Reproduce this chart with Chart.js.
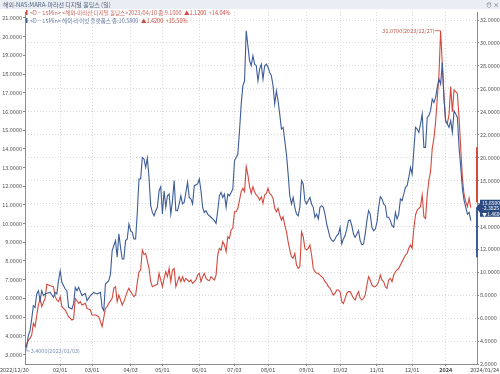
<!DOCTYPE html>
<html>
<head>
<meta charset="utf-8">
<script src="https://cdn.jsdelivr.net/npm/chart.js@4.4.0/dist/chart.umd.min.js"></script>
<style>
html, body { margin: 0; padding: 0; background: #fff; }
canvas { display: block; }
</style>
</head>
<body>
<canvas id="priceChart" width="500" height="374"></canvas>
<script>
// 거래일 번호 (2022/12/30 = 0)
const tickDays = [0, 21, 40, 63, 82, 104, 125, 145, 168, 188, 210, 231, 251, 266];
const tickLabels = ["2022/12/30", "02/01", "03/01", "04/03", "05/01", "06/01", "07/03",
                    "08/01", "09/01", "10/02", "11/01", "12/01", "2024", "2024/01/24"];

// 라이엇 플랫폼스 (왼쪽 축)
const riotDays = [0,1,2,3,4,5,6,7,8,9,10,11,12,13,15,17,18,19,20,21,22,24,25,26,28,29,30,31,32,34,36,37,39,41,43,45,46,47,48,50,
  51,52,54,55,56,57,58,59,60,61,62,63,64,65,66,67,68,69,70,71,72,73,74,75,76,77,78,79,80,81,82,83,84,85,86,87,88,89,90,91,
  92,93,94,95,97,98,99,100,101,103,104,105,106,107,108,109,110,111,112,113,114,115,116,117,118,119,120,121,122,123,124,125,126,127,128,129,
  130,131,132,133,134,135,136,137,138,139,140,141,142,143,144,145,146,147,148,149,150,151,152,153,154,155,156,157,158,159,160,161,162,163,164,165,
  166,167,168,169,170,171,172,173,174,175,176,177,178,179,180,181,182,183,184,185,186,187,188,189,190,191,192,193,194,195,196,197,198,199,200,201,
  202,203,204,205,206,207,208,209,210,211,212,213,214,215,216,217,218,219,220,221,222,223,224,225,226,227,228,229,230,231,232,233,234,235,236,237,
  238,239,240,241,242,243,244,245,246,247,248,249,250,251,252,253,254,255,256,257,258,259,260,261,262,263,264,265,266];
const riotClose = [3.5,3.4,4.01,4.27,4.9,5.61,5.52,6.24,6.41,5.88,6.41,6.15,6.24,6.27,6.32,6.06,6.32,6.24,6.95,7.48,6.86,6.5,6.41,5.52,5.43,5.7,6.59,6.41,6.59,6.15,6.27,5.88,6.15,6.32,6.24,6.32,5.52,5.34,6.77,6.95,
  7.3,8.55,9.09,8.2,9.45,8.73,8.11,8.11,9.09,9.18,9.98,9.62,9.53,9.18,9.18,10.58,12.39,12.39,13.54,13.46,13.01,13.51,12.47,10.96,10.6,10.42,10.69,10.87,11.76,11.98,10.51,11.76,10.87,11.49,11.58,10.51,11.23,12.3,10.69,10.69,
  11.05,11.49,11.05,11.14,12.21,11.4,11.32,11.05,12.03,12.12,12.39,11.76,10.87,10.6,10.69,10.51,10.42,10.34,10.25,10.16,10.01,10.69,11.49,11.67,11.4,11.58,10.87,11.58,11.49,11.67,11.85,13.36,13.54,13.72,14.97,16.39,
  17.37,17.64,20.32,19.51,18.71,18.45,18.98,18.53,18.45,17.64,18.27,18.53,17.73,18.45,18.53,18.36,18.09,17.91,17.38,16.4,17.11,16.57,15.86,15.06,15.15,14.44,13.72,12.65,11.49,11.05,11.4,10.87,10.51,10.42,10.87,12.3,
  12.12,11.23,11.05,11.23,11.4,11.05,10.87,10.34,10.51,10.25,10.87,10.96,10.87,10.51,9.98,9.62,9.27,9.12,9.05,9.18,9.36,9.44,9.8,8.91,9.18,9.36,9.71,10.16,10.19,9.89,9.44,9.27,9.44,9.62,9.09,8.87,
  8.91,9.44,10.16,10.69,10.51,9.8,9.62,9.71,10.07,10.87,11.44,11.32,11.05,10.96,10.34,10.34,10.16,9.89,9.8,10.6,10.25,10.51,11.32,11.23,11.58,11.94,12.03,12.47,13.01,12.65,13.9,15.15,15.06,14.88,15.33,15.86,
  14.08,14.08,15.68,15.77,16.04,16.66,16.48,16.75,17.29,17.73,17.46,18.62,16.75,15.51,15.33,15.15,15.51,14.88,16.04,15.86,15.68,14.08,13.01,11.85,11.23,10.87,10.51,10.6,10.16];

// 마라선 디지털 홀딩스 (오른쪽 축)
const maraDays = [0,1,2,3,4,5,6,8,9,10,12,13,15,17,18,19,20,21,22,24,26,28,29,30,32,33,34,36,37,39,40,42,44,46,48,49,50,52,53,54,
  55,56,58,59,60,61,62,63,65,66,67,68,69,70,71,72,74,75,76,78,79,80,82,83,84,85,86,87,88,89,90,91,92,93,94,95,96,98,99,100,
  102,103,104,105,106,107,108,109,110,111,112,113,114,115,116,117,118,119,120,121,122,123,124,125,126,127,128,129,130,131,132,133,134,135,136,137,
  138,139,140,141,142,143,144,145,146,147,148,149,150,151,152,153,154,155,156,157,158,159,160,161,162,163,164,165,166,167,168,169,170,171,172,173,
  174,175,176,177,178,179,180,181,182,183,184,185,186,187,188,189,190,191,192,193,194,195,196,197,198,199,200,201,202,203,204,205,206,207,208,209,
  210,211,212,213,214,215,216,217,218,219,220,221,222,223,224,225,226,227,228,229,230,231,232,233,234,235,236,237,238,239,240,241,242,243,244,245,
  246,247,248,249,250,251,252,253,254,255,256,257,258,259,260,261,262,263,264,265,266];
const maraClose = [3.45,3.75,4.09,4.24,4.53,5.55,5.26,7.15,7.73,7.0,7.73,8.95,8.83,8.74,7.87,7.58,7.44,7.87,7.0,6.71,6.13,5.84,5.92,7.73,7.29,7.44,7.15,7.29,6.85,6.71,6.27,6.27,6.13,5.26,6.85,7.0,7.29,7.73,8.6,8.74,
  7.44,8.02,7.15,7.44,7.87,8.31,8.6,8.31,7.87,8.02,9.1,10.05,10.2,11.94,11.56,11.65,10.34,9.18,8.74,8.89,8.95,9.91,8.74,9.47,10.05,9.62,10.34,9.18,10.2,10.34,8.74,9.18,9.62,9.18,9.62,9.18,9.47,9.18,9.33,9.03,
  9.33,9.76,9.91,9.18,9.62,9.91,9.47,9.33,9.27,9.62,9.47,9.33,9.76,11.51,12.09,11.94,12.67,12.38,11.8,13.1,12.96,13.69,13.83,15.28,15.28,15.58,16.3,17.03,17.32,17.03,19.21,18.48,17.47,16.88,17.47,17.03,
  16.74,16.59,16.3,16.59,16.01,16.74,16.88,17.32,16.88,16.74,16.45,15.58,15.28,15.58,14.99,14.56,14.85,14.12,13.54,12.67,11.94,11.36,11.22,11.65,10.63,10.34,10.49,13.54,13.1,12.09,11.94,12.09,12.38,11.51,10.34,10.05,
  9.91,9.91,9.76,9.62,9.47,9.18,9.03,8.74,8.6,8.31,8.02,8.16,8.45,8.45,8.31,7.44,7.29,7.73,8.16,8.31,8.31,8.02,7.73,7.58,8.02,8.31,7.73,7.58,7.73,8.02,8.89,9.62,9.33,8.89,8.74,8.74,
  8.89,9.18,9.76,9.33,9.18,8.74,8.6,9.33,9.47,9.18,9.76,10.05,10.2,10.34,10.63,10.92,11.22,11.51,11.65,12.09,12.38,12.09,13.83,14.99,15.43,15.58,15.72,16.74,14.85,14.7,16.74,18.05,18.78,20.81,21.69,23.13,
  25.17,27.2,31.07,28.07,25.17,23.13,22.99,23.72,26.19,24.01,25.9,25.75,25.6,23.42,20.81,18.19,16.74,16.16,15.72,16.45,15.63];

// 오른쪽 현재가 표시 막대 (값 범위)
const maraSideRange = [16.1, 20.9];
const riotSideRange = [8.2, 10.85];

const RED = "#d4493d";
const BLUE = "#3d5d98";
const FONT = "'Noto Sans CJK KR', 'Noto Sans', sans-serif";

function toPoints(days, vals) {
    return days.map((d, i) => ({ x: d, y: vals[i] }));
}

// 한 줄에 색이 다른 글자 조각들을 이어서 쓴다
function drawRuns(ctx, x, y, runs) {
    runs.forEach(([text, color]) => {
        ctx.fillStyle = color;
        ctx.fillText(text, x, y);
        x += ctx.measureText(text).width;
    });
}

// 제목, 범례, 주석 그리기
const overlay = {
    id: "overlay",
    beforeDraw(chart) {
        const ctx = chart.ctx;
        ctx.save();
        ctx.fillStyle = "#fff";
        ctx.fillRect(0, 0, chart.width, chart.height);
        ctx.restore();
    },
    afterDraw(chart) {
        const ctx = chart.ctx;
        const xs = chart.scales.x, yl = chart.scales.yL, yr = chart.scales.yR;
        const area = chart.chartArea;
        ctx.save();

        // 상단 제목 줄
        ctx.fillStyle = "#e9eef5";
        ctx.fillRect(0, 0, chart.width, 9);
        ctx.font = "6px " + FONT;
        ctx.textBaseline = "middle";
        ctx.fillStyle = "#56627a";
        ctx.fillText("해외-NAS:MARA-마라선 디지털 홀딩스 (일)", 3, 4.5);
        ctx.fillText("⊙ ×", 486, 4.5);

        // 범례
        ctx.font = "5.5px " + FONT;
        ctx.fillStyle = RED;
        ctx.fillRect(26, 10, 1.5, 5);
        drawRuns(ctx, 30, 12.5, [
            ["<D − 15Min> <해외-마라선 디지털 홀딩스>2023/04/10 종:9.1000  ", "#c8665c"],
            ["▲1.1200  +14.04%", RED]
        ]);
        ctx.fillStyle = BLUE;
        ctx.fillRect(26, 18, 1.5, 5);
        drawRuns(ctx, 30, 20.5, [
            ["<D − 15Min> 해외-라이엇 플랫폼스 종:10.5800  ", "#6a7fa8"],
            ["▲1.4200  +15.50%", RED]
        ]);

        // x축 라벨
        ctx.fillStyle = "#444";
        const ly = area.bottom + 5.5;
        tickDays.forEach((d, i) => {
            const px = xs.getPixelForValue(d);
            ctx.font = (tickLabels[i] === "2024" ? "bold " : "") + "5.5px " + FONT;
            if (i === 0) {
                ctx.textAlign = "left";
                ctx.fillText(tickLabels[i], 0, ly);
            } else if (i === tickDays.length - 1) {
                ctx.textAlign = "right";
                ctx.fillText(tickLabels[i], chart.width - 1, ly);
            } else {
                ctx.textAlign = "center";
                ctx.fillText(tickLabels[i], px, ly);
            }
        });

        // 최고/최저 주석
        ctx.font = "5.5px " + FONT;
        const hiIdx = maraClose.indexOf(Math.max(...maraClose));
        const hx = xs.getPixelForValue(maraDays[hiIdx]);
        const hy = yr.getPixelForValue(maraClose[hiIdx]);
        ctx.strokeStyle = RED;
        ctx.lineWidth = 0.8;
        ctx.beginPath();
        ctx.moveTo(hx - 6, hy);
        ctx.lineTo(hx, hy);
        ctx.stroke();
        ctx.fillStyle = "#c0584e";
        ctx.textAlign = "right";
        ctx.fillText(maraClose[hiIdx].toFixed(4) + "(2023/12/27)", hx - 6, hy);

        const loIdx = riotClose.indexOf(Math.min(...riotClose));
        const lx = xs.getPixelForValue(riotDays[loIdx]);
        const lyy = yl.getPixelForValue(riotClose[loIdx]);
        ctx.strokeStyle = "#7d8fb3";
        ctx.beginPath();
        ctx.moveTo(lx, lyy);
        ctx.lineTo(lx, lyy + 4);
        ctx.lineTo(lx + 3, lyy + 4);
        ctx.stroke();
        ctx.fillStyle = "#7d8fb3";
        ctx.textAlign = "left";
        ctx.fillText(riotClose[loIdx].toFixed(4) + "(2023/01/03)", lx + 4, lyy + 4);

        // 오른쪽 현재가 막대와 표시 상자
        ctx.fillStyle = RED;
        const r1 = yr.getPixelForValue(maraSideRange[1]), r0 = yr.getPixelForValue(maraSideRange[0]);
        ctx.fillRect(area.right - 1, r1, 2, r0 - r1);
        ctx.fillStyle = BLUE;
        const b1 = yl.getPixelForValue(riotSideRange[1]), b0 = yl.getPixelForValue(riotSideRange[0]);
        ctx.fillRect(area.right - 1, b1, 2, b0 - b1);

        const last = maraClose[maraClose.length - 1];
        const by = yr.getPixelForValue(last) - 8;
        ctx.fillStyle = "#2b4a80";
        ctx.beginPath();
        ctx.moveTo(area.right - 1, by + 8);
        ctx.lineTo(area.right + 3, by + 3);
        ctx.lineTo(area.right + 3, by);
        ctx.lineTo(chart.width, by);
        ctx.lineTo(chart.width, by + 17);
        ctx.lineTo(area.right + 3, by + 17);
        ctx.lineTo(area.right + 3, by + 13);
        ctx.closePath();
        ctx.fill();
        ctx.fillStyle = "#fff";
        ctx.font = "5px " + FONT;
        ctx.textAlign = "left";
        ctx.fillText("15.6500", area.right + 5, by + 3);
        ctx.fillText("-2.3825", area.right + 5, by + 8.5);
        ctx.fillText("▼1.4600", area.right + 5, by + 14);
        ctx.restore();
    }
};

const ctx = document.getElementById("priceChart").getContext("2d");

new Chart(ctx, {
    type: "line",
    data: {
        datasets: [
            {
                label: "라이엇 플랫폼스",
                data: toPoints(riotDays, riotClose),
                yAxisID: "yL",
                borderColor: BLUE,
                borderWidth: 1.1,
                pointRadius: 0,
                tension: 0
            },
            {
                label: "마라선 디지털 홀딩스",
                data: toPoints(maraDays, maraClose),
                yAxisID: "yR",
                borderColor: RED,
                borderWidth: 1.1,
                pointRadius: 0,
                tension: 0
            }
        ]
    },
    options: {
        responsive: false,
        animation: false,
        layout: { padding: { top: 12, left: 0, right: 0, bottom: 0 } },
        plugins: {
            legend: { display: false },
            tooltip: { enabled: false }
        },
        scales: {
            x: {
                type: "linear",
                min: 0,
                max: 269.7,
                afterBuildTicks: axis => {
                    axis.ticks = tickDays.slice(1, -1).map(v => ({ value: v }));
                },
                afterFit: axis => { axis.height = 10; },
                ticks: { display: false },
                grid: { color: "#d9d9d9", lineWidth: 1, tickLength: 2, tickColor: "#888" },
                border: { display: true, color: "#8c8c8c", dash: [1, 2] }
            },
            yL: {
                position: "left",
                min: 2.49,
                max: 21.32,
                afterBuildTicks: axis => {
                    const t = [];
                    for (let v = 3; v <= 21; v++) t.push({ value: v });
                    axis.ticks = t;
                },
                afterFit: axis => { axis.width = 25; },
                ticks: {
                    callback: v => v.toFixed(4),
                    font: { family: FONT, size: 5.5 },
                    color: "#555",
                    padding: 1
                },
                grid: { drawOnChartArea: false, tickLength: 2, tickColor: "#888" },
                border: { color: "#8c8c8c" }
            },
            yR: {
                position: "right",
                min: 2,
                max: 32.7,
                afterBuildTicks: axis => {
                    const t = [];
                    for (let v = 2; v <= 32; v += 2) t.push({ value: v });
                    axis.ticks = t;
                },
                afterFit: axis => { axis.width = 23; },
                ticks: {
                    callback: v => v.toFixed(4),
                    font: { family: FONT, size: 5.5 },
                    color: "#555",
                    padding: 1
                },
                grid: { color: "#d9d9d9", tickLength: 2, tickColor: "#888" },
                border: { color: "#8c8c8c", dash: [1, 2] }
            }
        }
    },
    plugins: [overlay]
});
</script>
</body>
</html>
